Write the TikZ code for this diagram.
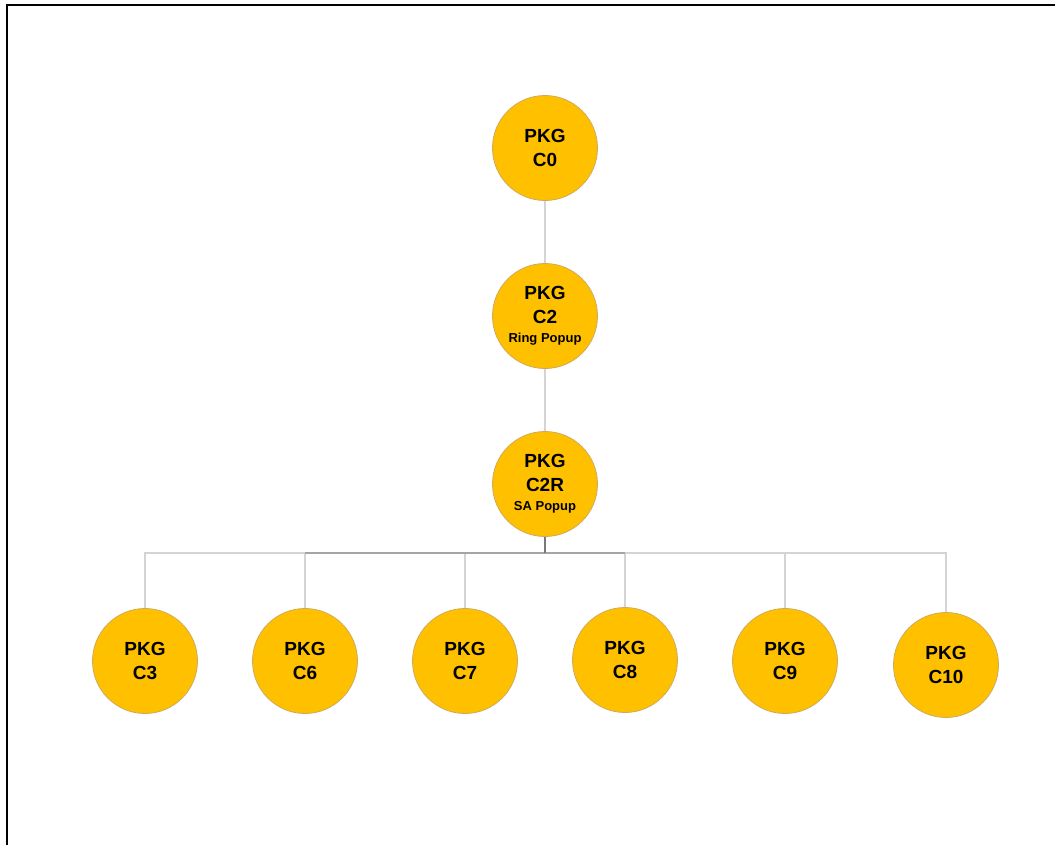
\documentclass[tikz,border=0pt]{standalone}
\usepackage{fontspec}
\setmainfont{Liberation Sans}
\begin{document}
\begin{tikzpicture}[x=1pt,y=-1pt,
  pkg/.style={circle,draw={rgb,255:red,205;green,170;blue,95},line width=0.8pt,
    fill={rgb,255:red,255;green,192;blue,0},minimum size=105pt,inner sep=0pt,
    align=center,font=\bfseries\fontsize{19}{24}\selectfont,text=black},
  link/.style={draw={rgb,255:red,212;green,212;blue,212},line width=1.6pt},
  trunk/.style={draw={rgb,255:red,165;green,165;blue,165},line width=1.6pt},
  stem/.style={draw={rgb,255:red,120;green,120;blue,120},line width=1.6pt}]
  \useasboundingbox (0,0) rectangle (1055,844);
  % page frame (left and top edges)
  \draw[line width=2.6pt] (7,845) -- (7,5) -- (1056,5);

  % nodes
  \node[pkg] (c0)  at (545,148) {PKG\\C0};
  \node[pkg] (c2)  at (545,316) {PKG\\C2\\[-5pt]{\fontsize{13}{15}\selectfont Ring Popup}};
  \node[pkg] (c2r) at (545,484) {PKG\\C2R\\[-5pt]{\fontsize{13}{15}\selectfont SA Popup}};
  \node[pkg] (c3)  at (145,661) {PKG\\C3};
  \node[pkg] (c6)  at (305,661) {PKG\\C6};
  \node[pkg] (c7)  at (465,661) {PKG\\C7};
  \node[pkg] (c8)  at (625,660) {PKG\\C8};
  \node[pkg] (c9)  at (785,661) {PKG\\C9};
  \node[pkg] (c10) at (946,665) {PKG\\C10};
  \coordinate (bar) at (545,553);

  % connectors
  \path[link] (c0) -- (c2);
  \path[link] (c2) -- (c2r);
  \path[link] (bar) -| (c3.north);
  \path[link] (bar) -| (c6.north);
  \path[link] (bar) -| (c7.north);
  \path[link] (bar) -| (c8.north);
  \path[link] (bar) -| (c9.north);
  \path[link] (bar) -| (c10.north);
  \path[trunk] (c6 |- bar) -- (c8 |- bar);
  \path[stem] (c2r) -- (bar);
\end{tikzpicture}
\end{document}
